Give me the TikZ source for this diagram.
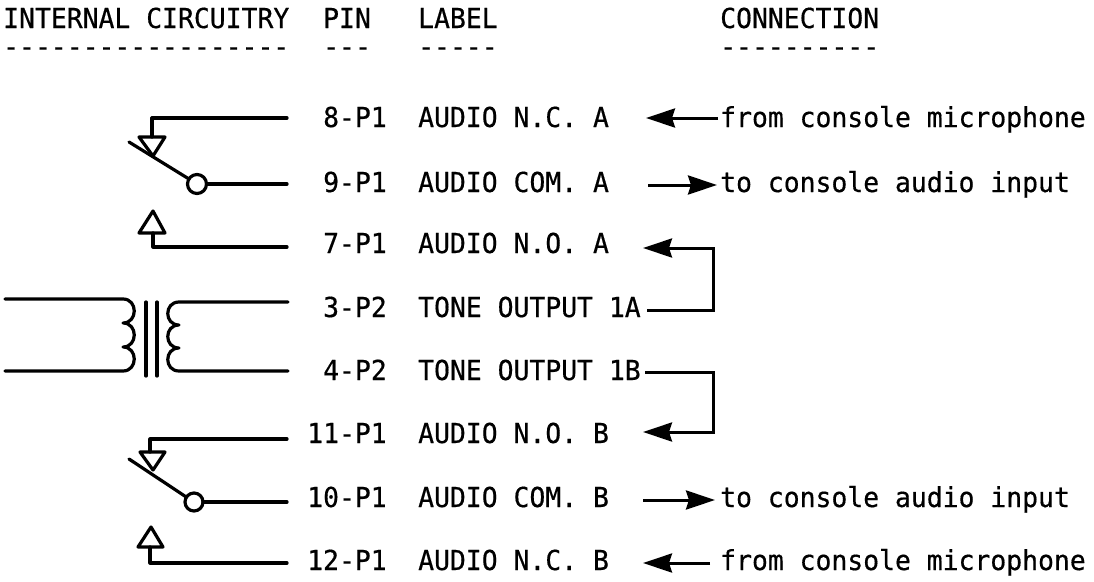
\documentclass[tikz,border=0pt]{standalone}
\usepackage{fontspec}
\newfontfamily\mono[FakeStretch=0.96,FakeBold=0.5]{DejaVu Sans Mono}
\usetikzlibrary{arrows.meta}
\newcommand\dashrow[1]{\foreach \i in {1,...,#1}{-\kern0pt}}
\begin{document}
\begin{tikzpicture}[x=1pt,y=-1pt,
  txt/.style={font=\mono\fontsize{27.5}{30}\selectfont, inner sep=0pt, anchor=base west},
  wire/.style={line width=3.2pt, line cap=round, line join=round},
  arr/.style={line width=3pt, line join=miter, -{Stealth[length=29pt,width=19pt,inset=3pt]}},
]
\useasboundingbox (0,0) rectangle (1094,581);
% header
\node[txt] (hIC) at (3,28) {INTERNAL CIRCUITRY};
\node[txt] (hPIN) at (323,28) {PIN};
\node[txt] (hLAB) at (418,28) {LABEL};
\node[txt] (hCON) at (720,28) {CONNECTION};
\node[txt] (dIC) at (3,56) {\dashrow{18}};
\node[txt] (dPIN) at (323,56) {\dashrow{3}};
\node[txt] (dLAB) at (418,56) {\dashrow{5}};
\node[txt] (dCON) at (720,56) {\dashrow{10}};
% rows
\node[txt] (p8) at (323,127) {8-P1};
\node[txt] (l8) at (418,127) {AUDIO N.C. A};
\node[txt] (c8) at (720,127) {from console microphone};
\node[txt] (p9) at (323,192) {9-P1};
\node[txt] (l9) at (418,192) {AUDIO COM. A};
\node[txt] (c9) at (720,192) {to console audio input};
\node[txt] (p7) at (323,253) {7-P1};
\node[txt] (l7) at (418,253) {AUDIO N.O. A};
\node[txt] (p3) at (323,317) {3-P2};
\node[txt] (l3) at (418,317) {TONE OUTPUT 1A};
\node[txt] (p4) at (323,380) {4-P2};
\node[txt] (l4) at (418,380) {TONE OUTPUT 1B};
\node[txt] (p11) at (307,443) {11-P1};
\node[txt] (l11) at (418,443) {AUDIO N.O. B};
\node[txt] (p10) at (307,507) {10-P1};
\node[txt] (l10) at (418,507) {AUDIO COM. B};
\node[txt] (c10) at (720,507) {to console audio input};
\node[txt] (p12) at (307,570) {12-P1};
\node[txt] (l12) at (418,570) {AUDIO N.C. B};
\node[txt] (c12) at (720,570) {from console microphone};
% switch A
\draw[wire] (287,118) -- (152,118) -- (152,137);
\draw[wire] (139,137) -- (165,137) -- (153,156) -- cycle;
\draw[wire] (129,142) -- (189,179);
\draw[wire] (197,184) circle[radius=9.5pt];
\draw[wire] (206.5,184) -- (287,184);
\draw[wire] (139,233) -- (165,233) -- (153,211) -- cycle;
\draw[wire] (153,233) -- (153,247) -- (287,247);
% transformer
\draw[wire] (5,299) -- (123,299) .. controls (138,299) and (138,323) .. (123,323)
  .. controls (138,323) and (138,347) .. (123,347)
  .. controls (138,347) and (138,371) .. (123,371) -- (5,371);
\draw[wire] (146,302) -- (146,376);
\draw[wire] (157,302) -- (157,376);
\draw[wire] (288,302) -- (179,302) .. controls (164,302) and (164,325) .. (179,325)
  .. controls (164,325) and (164,348) .. (179,348)
  .. controls (164,348) and (164,371) .. (179,371) -- (288,371);
% switch B
\draw[wire] (287,439) -- (150,439) -- (150,452);
\draw[wire] (140,452) -- (165,452) -- (153,470) -- cycle;
\draw[wire] (129,459) -- (186.4,497.1);
\draw[wire] (194,502) circle[radius=9pt];
\draw[wire] (203,502) -- (287,502);
\draw[wire] (138,547) -- (163,547) -- (151,527) -- cycle;
\draw[wire] (150,547) -- (150,563) -- (287,563);
% connection arrows
\coordinate (a8s) at (718,118); \coordinate (a8e) at (646,118);
\draw[arr] (a8s) -- (a8e);
\coordinate (a9s) at (648,185); \coordinate (a9e) at (717,185);
\draw[arr] (a9s) -- (a9e);
\coordinate (a3s) at (647,310); \coordinate (a7e) at (643,248);
\draw[arr] (a3s) -- (713,310) -- (713,248) -- (a7e);
\coordinate (a4s) at (645,372); \coordinate (a11e) at (643,432);
\draw[arr] (a4s) -- (713,372) -- (713,432) -- (a11e);
\coordinate (a10s) at (643,500); \coordinate (a10e) at (715,500);
\draw[arr] (a10s) -- (a10e);
\coordinate (a12s) at (710,563); \coordinate (a12e) at (643,563);
\draw[arr] (a12s) -- (a12e);
\end{tikzpicture}
\end{document}
